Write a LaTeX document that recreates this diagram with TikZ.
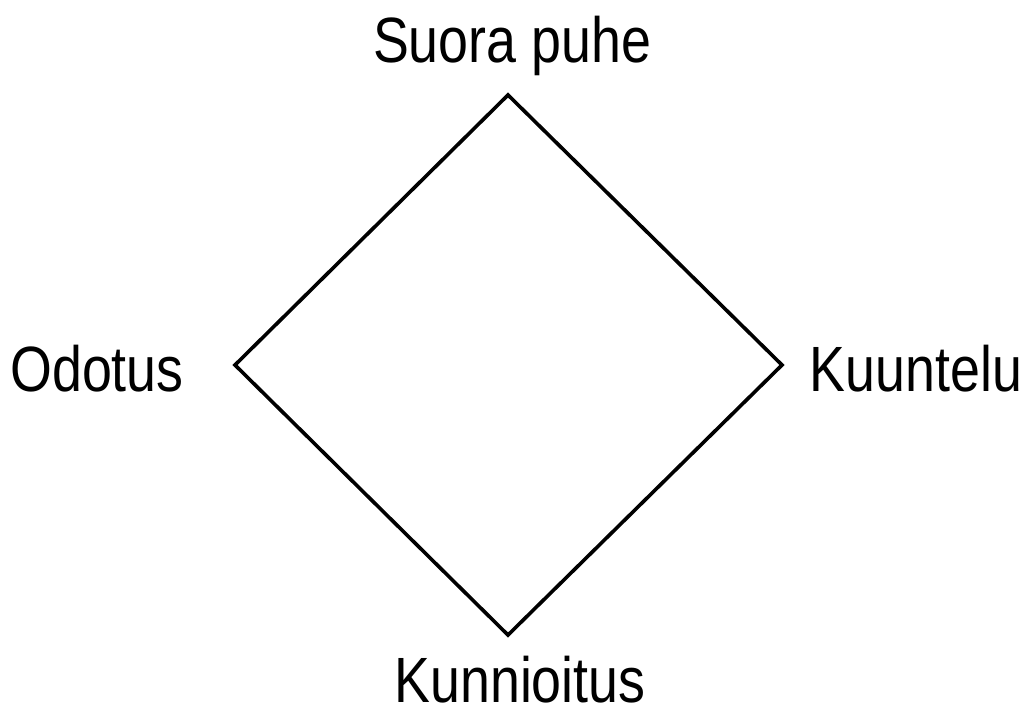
\documentclass[tikz,border=0pt]{standalone}
\usepackage{fontspec}
\setmainfont{Liberation Sans}[FakeStretch=0.84]
\usepackage{tikz}

\begin{document}
\begin{tikzpicture}[
  x=1pt, y=-1pt,
  lbl/.style={inner sep=0pt, anchor=base,
              font=\fontsize{64}{70}\selectfont},
  edge/.style={line width=3.6pt, line join=miter}
]
\useasboundingbox (0,0) rectangle (1027,706);

% ---- corners of the diamond ----
\coordinate (top)    at (508,95);
\coordinate (left)   at (235,365);
\coordinate (right)  at (782,365);
\coordinate (bottom) at (508,635);

\draw[edge] (top) -- (right) -- (bottom) -- (left) -- cycle;

% ---- labels ----
\node[lbl] (suora)      at (512,63)  {Suora puhe};
\node[lbl] (odotus)     at (97,391)  {Odotus};
\node[lbl] (kuuntelu)   at (916,391) {Kuuntelu};
\node[lbl] (kunnioitus) at (520,702) {Kunnioitus};

\end{tikzpicture}
\end{document}
